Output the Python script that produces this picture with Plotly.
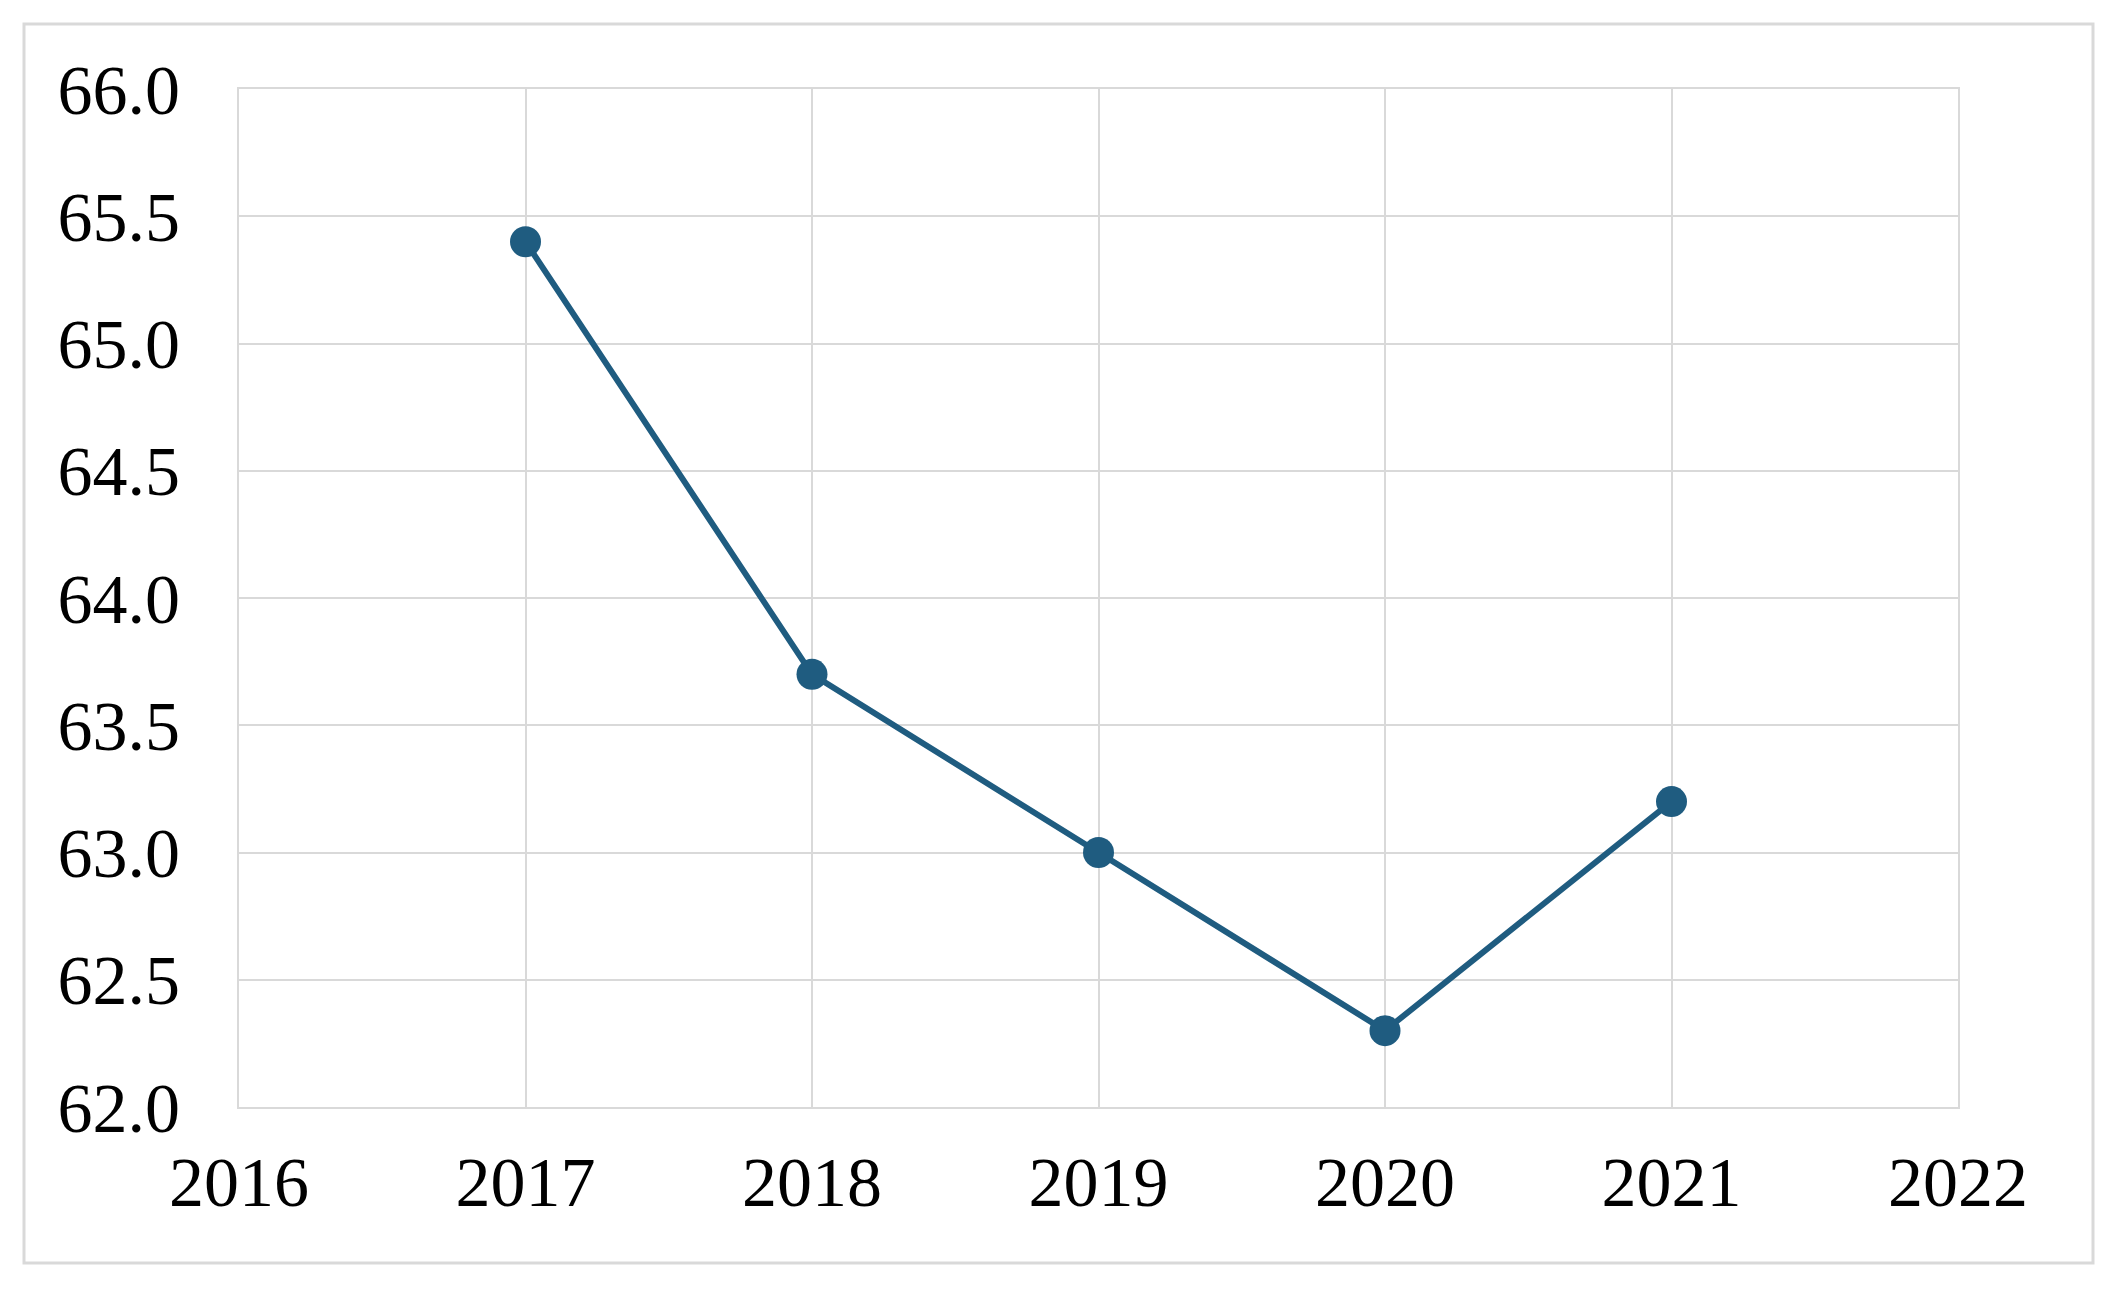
import plotly.graph_objects as go

# values
years = [2017, 2018, 2019, 2020, 2021]
values = [65.4, 63.7, 63.0, 62.3, 63.2]

W, H = 2119, 1295
ml, mr, mt, mb = 231, 169, 81, 196
pw = W - ml - mr
ph = H - mt - mb

line_col = "#1F5C80"
grid_col = "#D9D9D9"

fig = go.Figure()
fig.add_trace(go.Scatter(
    x=years,
    y=values,
    mode="lines+markers",
    line=dict(color=line_col, width=6),
    marker=dict(color=line_col, size=31),
    showlegend=False,
))

axis_font = dict(family="Liberation Serif", size=70, color="black")

fig.update_layout(
    width=W,
    height=H,
    margin=dict(l=ml, r=mr, t=mt, b=mb),
    paper_bgcolor="white",
    plot_bgcolor="white",
    xaxis=dict(
        range=[2016, 2022],
        dtick=1,
        tick0=2016,
        showgrid=True,
        gridcolor=grid_col,
        gridwidth=2,
        showline=True,
        mirror=True,
        linecolor=grid_col,
        linewidth=2,
        zeroline=False,
        tickfont=axis_font,
        ticklabelstandoff=13,
    ),
    yaxis=dict(
        range=[62, 66],
        dtick=0.5,
        tick0=62,
        tickformat=".1f",
        showgrid=True,
        gridcolor=grid_col,
        gridwidth=2,
        showline=True,
        mirror=True,
        linecolor=grid_col,
        linewidth=2,
        zeroline=False,
        tickfont=axis_font,
        ticklabelstandoff=43,
    ),
)

# outer frame around the whole chart (page body adds an 8px offset)
fig.add_shape(
    type="rect",
    xref="paper", yref="paper",
    x0=(16 - ml) / pw, x1=(2085 - ml) / pw,
    y0=(H - mb - 1255) / ph, y1=(H - mb - 16) / ph,
    line=dict(color=grid_col, width=3),
    layer="below",
)

fig.write_html("out.html")
